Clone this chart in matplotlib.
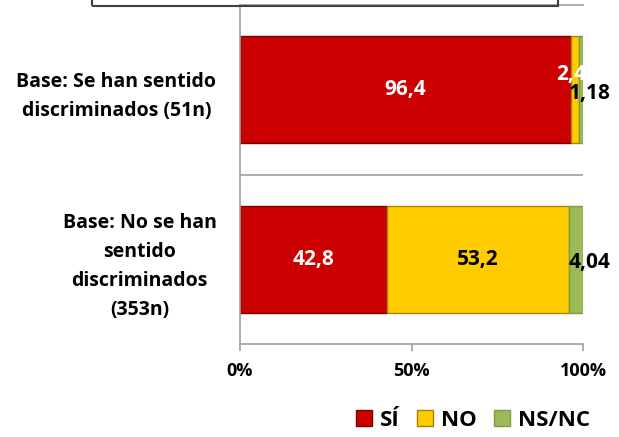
import matplotlib.pyplot as plt
from matplotlib.patches import Rectangle

plt.rcParams["font.family"] = ["Open Sans", "DejaVu Sans"]
plt.rcParams["font.weight"] = "bold"

categories = [
    "Base: Se han sentido\ndiscriminados (51n)",
    "Base: No se han\nsentido\ndiscriminados\n(353n)",
]
series_names = ["SÍ", "NO", "NS/NC"]
si = [96.4, 42.8]
no = [2.4, 53.2]
nsnc = [1.18, 4.04]
labels_si = ["96,4", "42,8"]
labels_no = ["2,4", "53,2"]
labels_nsnc = ["1,18", "4,04"]
xticks = [0, 50, 100]
xtick_labels = ["0%", "50%", "100%"]

colors = ["#CC0000", "#FFCC00", "#9BBB59"]
edges = ["#7A0000", "#A68400", "#7F9A45"]

fig = plt.figure(figsize=(6.19, 4.37), dpi=100)
ax = fig.add_axes((240 / 619, 1 - 344 / 437, 343 / 619, 339 / 437))

ypos = list(range(len(categories)))
lefts = [0.0] * len(categories)
for name, vals, col, edge in zip(series_names, [si, no, nsnc], colors, edges):
    ax.barh(ypos, vals, left=lefts, height=0.63, color=col, edgecolor=edge,
            linewidth=1, label=name)
    lefts = [l + v for l, v in zip(lefts, vals)]

# value labels
vsize = 15
for i in ypos:
    ax.text(si[i] / 2, i, labels_si[i], ha="center", va="center",
            color="white", fontsize=vsize, fontweight="bold")
    if no[i] > 10:
        ax.text(si[i] + no[i] / 2, i, labels_no[i], ha="center", va="center",
                color="black", fontsize=vsize, fontweight="bold")
    else:
        ax.text(si[i] + no[i] / 2 - 1, i - 0.09, labels_no[i], ha="center",
                va="center", color="white", fontsize=vsize, fontweight="bold")
    ax.text(100 + 2, i + 0.02, labels_nsnc[i], ha="center", va="center",
            color="black", fontsize=vsize, fontweight="bold", clip_on=False)

ax.set_xlim(0, 100)
ax.set_ylim(len(categories) - 0.5, -0.5)
ax.set_xticks(xticks)
ax.set_xticklabels(xtick_labels, fontsize=13, fontweight="bold")
ax.tick_params(axis="x", length=5, color="#A0A0A0", width=1.2, pad=8)
ax.set_yticks(ypos)
ax.set_yticklabels(categories, fontsize=14, fontweight="bold",
                   multialignment="center", linespacing=1.6)
ax.tick_params(axis="y", length=0, pad=17)
for s in ["left", "bottom", "top"]:
    ax.spines[s].set_color("#A0A0A0")
    ax.spines[s].set_linewidth(1.2)
ax.spines["right"].set_visible(False)
ax.axhline(0.5, color="#A0A0A0", linewidth=1.2)

# partially visible box at the top
fig.patches.append(Rectangle((92 / 619, 1 - 6 / 437), 466 / 619, 0.1,
                             transform=fig.transFigure, fill=False,
                             edgecolor="#404040", linewidth=1.5))

leg = fig.legend(loc="lower right", bbox_to_anchor=(0.985, -0.032), ncol=3,
                 frameon=False, handlelength=0.7, handleheight=0.7,
                 columnspacing=0.8, handletextpad=0.36,
                 prop={"weight": "bold", "size": 16})

fig.savefig("out.png", dpi=100)
